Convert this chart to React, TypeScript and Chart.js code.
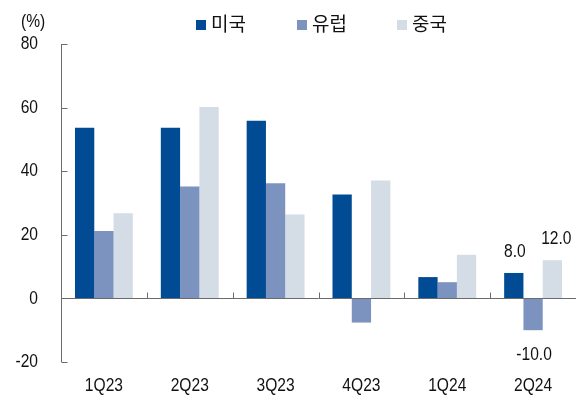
import React, { useEffect, useRef } from "react";
import { Chart, registerables } from "chart.js";

Chart.register(...registerables);

const categories = ["1Q23", "2Q23", "3Q23", "4Q23", "1Q24", "2Q24"];
const seriesNames = ["미국", "유럽", "중국"];
const usValues = [53.7, 53.7, 55.9, 32.7, 6.7, 8.0];
const euValues = [21.2, 35.2, 36.2, -7.6, 5.1, -10.0];
const cnValues = [26.8, 60.2, 26.4, 37.1, 13.7, 12.0];
const seriesColors = ["#004B93", "#7C93C0", "#D4DCE5"];
const labeledIndex = 5;
const yTicks = { min: -20, max: 80, step: 20 };
const unitLabel = "(%)";

const KR = "'Noto Sans CJK KR', 'Noto Sans', sans-serif";
const TEXT_SIZE = 19;

function fontInstalled(name: string): boolean {
  const c = document.createElement("canvas").getContext("2d");
  if (!c) return false;
  const sample = "1Q23 mmmwwwiii 0.-";
  c.font = "40px monospace";
  const a = c.measureText(sample).width;
  c.font = `40px '${name}', monospace`;
  const b = c.measureText(sample).width;
  return Math.abs(a - b) > 0.5;
}

let narrowFont: { family: string; scale: number } | null = null;
function getNarrow() {
  if (narrowFont) return narrowFont;
  const candidates = ["Liberation Sans Narrow", "Arial Narrow"];
  for (const c of candidates) {
    if (fontInstalled(c)) {
      narrowFont = { family: `'${c}'`, scale: 1 };
      return narrowFont;
    }
  }
  narrowFont = { family: "'Liberation Sans', Arial, sans-serif", scale: 0.82 };
  return narrowFont;
}

function drawNarrow(ctx: CanvasRenderingContext2D, text: string, x: number, y: number, align: CanvasTextAlign) {
  const f = getNarrow();
  ctx.save();
  ctx.font = `${TEXT_SIZE}px ${f.family}`;
  ctx.textAlign = align;
  ctx.textBaseline = "middle";
  ctx.translate(x, y);
  ctx.scale(f.scale, 1);
  ctx.fillText(text, 0, 0);
  ctx.restore();
}

const decorPlugin = {
  id: "decor",
  afterDatasetsDraw(chart: any) {
    const { ctx, chartArea, scales } = chart;
    const x = scales.x;
    const y = scales.y;
    ctx.save();
    ctx.strokeStyle = "#6b6b6b";
    ctx.lineWidth = 1;
    const lx = Math.round(chartArea.left) + 0.5;
    ctx.beginPath();
    ctx.moveTo(lx, y.getPixelForValue(yTicks.max));
    ctx.lineTo(lx, y.getPixelForValue(yTicks.min));
    ctx.stroke();
    y.ticks.forEach((t: any) => {
      const py = Math.round(y.getPixelForValue(t.value)) + 0.5;
      ctx.beginPath();
      ctx.moveTo(lx, py);
      ctx.lineTo(lx + 6, py);
      ctx.stroke();
    });
    const y0 = Math.round(y.getPixelForValue(0)) + 0.5;
    ctx.beginPath();
    ctx.moveTo(lx, y0);
    ctx.lineTo(chartArea.right, y0);
    ctx.stroke();
    for (let i = 1; i < categories.length; i++) {
      const bx = Math.round((x.getPixelForValue(i - 1) + x.getPixelForValue(i)) / 2) + 0.5;
      ctx.beginPath();
      ctx.moveTo(bx, y0);
      ctx.lineTo(bx, y0 - 6);
      ctx.stroke();
    }
    ctx.fillStyle = "#111";
    y.ticks.forEach((t: any) => {
      drawNarrow(ctx, String(t.value), chartArea.left - 23, y.getPixelForValue(t.value), "right");
    });
    categories.forEach((c, i) => {
      drawNarrow(ctx, c, x.getPixelForValue(i), chartArea.bottom + 24, "center");
    });
    chart.data.datasets.forEach((ds: any, di: number) => {
      if (di === 1 && ds.data[labeledIndex] >= 0) return;
      const v = ds.data[labeledIndex];
      const el = chart.getDatasetMeta(di).data[labeledIndex];
      const ty = v >= 0 ? el.y - 21 : el.y + 25;
      drawNarrow(ctx, v.toFixed(1), el.x + (di === 2 ? 4 : 1), ty, "center");
    });
    ctx.restore();
  },
  afterDraw(chart: any) {
    const { ctx, chartArea } = chart;
    ctx.save();
    ctx.fillStyle = "#111";
    drawNarrow(ctx, unitLabel, 21, 22, "left");
    ctx.font = `19px ${KR}`;
    ctx.textAlign = "left";
    ctx.textBaseline = "middle";
    const box = 10;
    const gapText = 5;
    const gapItem = 51;
    const widths = chart.data.datasets.map((ds: any) => box + gapText + ctx.measureText(ds.label).width);
    const total = widths.reduce((a: number, b: number) => a + b, 0) + gapItem * (widths.length - 1);
    let cx = (chartArea.left + chartArea.right) / 2 + 3 - total / 2;
    chart.data.datasets.forEach((ds: any, i: number) => {
      ctx.fillStyle = ds.backgroundColor;
      ctx.fillRect(Math.round(cx), 20, box, box);
      ctx.fillStyle = "#111";
      ctx.fillText(ds.label, Math.round(cx) + box + gapText, 24);
      cx += widths[i] + gapItem;
    });
    ctx.restore();
  },
};

export default function App() {
  const ref = useRef<HTMLCanvasElement | null>(null);
  useEffect(() => {
    if (!ref.current) return;
    getNarrow();
    const chart = new Chart(ref.current, {
      type: "bar",
      data: {
        labels: categories,
        datasets: [usValues, euValues, cnValues].map((d, i) => ({
          label: seriesNames[i],
          data: d,
          backgroundColor: seriesColors[i],
          borderWidth: 0,
          categoryPercentage: 0.674,
          barPercentage: 1,
        })),
      },
      options: {
        animation: false,
        responsive: true,
        maintainAspectRatio: false,
        layout: { padding: { top: 44, left: 0, right: 0, bottom: 0 } },
        plugins: { legend: { display: false }, tooltip: { enabled: false } },
        scales: {
          x: {
            grid: { display: false, drawTicks: false },
            border: { display: false },
            ticks: { display: false },
            afterFit: (s: any) => {
              s.height = 44;
            },
          },
          y: {
            min: yTicks.min,
            max: yTicks.max,
            grid: { display: false, drawTicks: false },
            border: { display: false },
            ticks: { display: false, stepSize: yTicks.step },
            afterFit: (s: any) => {
              s.width = 61;
            },
          },
        },
      },
      plugins: [decorPlugin],
    });
    return () => chart.destroy();
  }, []);
  return (
    <div style={{ position: "fixed", left: 0, top: 0, width: 576, height: 406, background: "#fff" }}>
      <canvas ref={ref} />
    </div>
  );
}
